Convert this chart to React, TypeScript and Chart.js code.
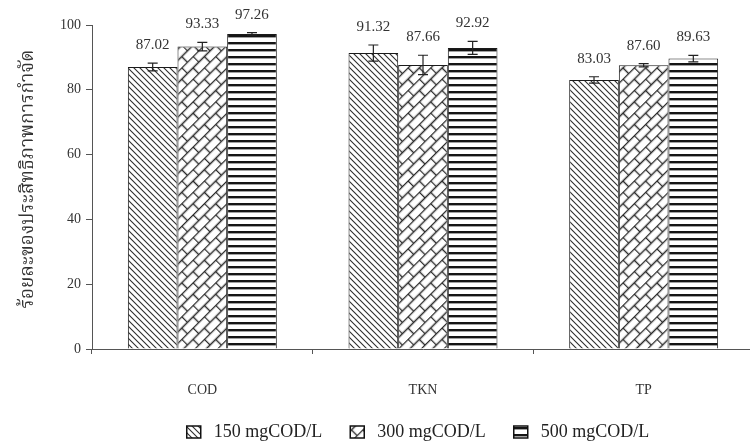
import React, { useEffect, useRef } from "react";
import { Chart, registerables } from "chart.js";

Chart.register(...registerables);

const categories = ["COD", "TKN", "TP"];
const seriesNames = ["150 mgCOD/L", "300 mgCOD/L", "500 mgCOD/L"];
const values150 = [87.02, 91.32, 83.03];
const values300 = [93.33, 87.66, 87.6];
const values500 = [97.26, 92.92, 89.63];
const err150 = [1.2, 2.5, 1.0];
const err300 = [1.3, 3.0, 0.5];
const err500 = [0.4, 2.0, 1.0];
const yMax = 100;
const yStep = 20;
const yTitle = "ร้อยละของประสิทธิภาพการกำจัด";

const SERIF = "'Liberation Serif', 'DejaVu Serif', serif";
const THAI = "'Noto Serif Thai', 'Noto Sans Thai', 'Loma', 'Garuda', 'Norasi', 'Kinnari', 'Tlwg Typo', sans-serif";

function tile(w: number, h: number, draw: (g: CanvasRenderingContext2D) => void) {
  const c = document.createElement("canvas");
  c.width = w;
  c.height = h;
  const g = c.getContext("2d")!;
  g.fillStyle = "#ffffff";
  g.fillRect(0, 0, w, h);
  draw(g);
  return c;
}

function makePatterns(ctx: CanvasRenderingContext2D) {
  const s = 6;
  const diag = tile(s, s, (g) => {
    g.strokeStyle = "#2e2e2e";
    g.lineWidth = 1.1;
    g.beginPath();
    for (const c of [-s, 0, s]) {
      g.moveTo(-2, -2 + c);
      g.lineTo(s + 2, s + 2 + c);
    }
    g.stroke();
  });
  const bw = 16;
  const bh = 8;
  const brick = tile(bw, bh * 2, (g) => {
    g.strokeStyle = "#2a2a2a";
    g.lineWidth = 1.4;
    g.beginPath();
    g.moveTo(0, 0.5);
    g.lineTo(bw, 0.5);
    g.moveTo(0, bh + 0.5);
    g.lineTo(bw, bh + 0.5);
    g.moveTo(0.5, 0);
    g.lineTo(0.5, bh);
    g.moveTo(bw / 2 + 0.5, bh);
    g.lineTo(bw / 2 + 0.5, bh * 2);
    g.stroke();
  });
  const horiz = tile(4, 7, (g) => {
    g.fillStyle = "#151515";
    g.fillRect(0, 0, 4, 2.4);
  });
  const p1 = ctx.createPattern(diag, "repeat")!;
  const p2 = ctx.createPattern(brick, "repeat")!;
  try {
    p2.setTransform(new DOMMatrix().rotate(-45));
  } catch (e) {}
  const p3 = ctx.createPattern(horiz, "repeat")!;
  return [p1, p2, p3];
}

export default function App() {
  const ref = useRef<HTMLCanvasElement | null>(null);

  useEffect(() => {
    const canvas = ref.current!;
    const ctx = canvas.getContext("2d")!;
    const patterns = makePatterns(ctx);
    const values = [values150, values300, values500];
    const errors = [err150, err300, err500];

    const overlay = {
      id: "overlay",
      afterDatasetsDraw(chart: any) {
        const c = chart.ctx as CanvasRenderingContext2D;
        const ys = chart.scales.y;
        const area = chart.chartArea;
        c.save();
        values.forEach((vals, di) => {
          const meta = chart.getDatasetMeta(di);
          meta.data.forEach((el: any, i: number) => {
            const v = vals[i];
            const e = errors[di][i];
            const x = el.x;
            const yt = ys.getPixelForValue(v + e);
            const yb = ys.getPixelForValue(v - e);
            c.strokeStyle = "#222";
            c.lineWidth = 1.2;
            c.beginPath();
            c.moveTo(x, yt);
            c.lineTo(x, yb);
            c.moveTo(x - 5, yt);
            c.lineTo(x + 5, yt);
            c.moveTo(x - 5, yb);
            c.lineTo(x + 5, yb);
            c.stroke();
            c.fillStyle = "#333";
            c.font = `15px ${SERIF}`;
            c.textAlign = "center";
            c.textBaseline = "alphabetic";
            const base = Math.max(yt - 14, 19);
            c.fillText(v.toFixed(2), x, base);
          });
        });
        // y title
        c.save();
        c.translate(30, (area.top + area.bottom) / 2 - 8);
        c.rotate(-Math.PI / 2);
        c.fillStyle = "#333";
        c.font = `19px ${THAI}`;
        c.textAlign = "center";
        c.textBaseline = "middle";
        c.fillText(yTitle, 0, 0);
        c.restore();
        // legend
        c.font = `18px ${SERIF}`;
        c.textBaseline = "middle";
        c.textAlign = "left";
        const iconW = 14;
        const iconH = 12;
        const gapIT = 13;
        const gapItem = 28;
        const widths = seriesNames.map((n) => c.measureText(n).width);
        const total = widths.reduce((a, b) => a + b, 0) + 3 * (iconW + gapIT) + 2 * gapItem;
        let x = (area.left + area.right) / 2 - 5 - total / 2;
        const ly = 432;
        seriesNames.forEach((n, i) => {
          c.fillStyle = patterns[i];
          c.fillRect(x, ly - iconH / 2, iconW, iconH);
          c.strokeStyle = "#111";
          c.lineWidth = 1.5;
          c.strokeRect(x, ly - iconH / 2, iconW, iconH);
          c.fillStyle = "#222";
          c.fillText(n, x + iconW + gapIT, ly);
          x += iconW + gapIT + widths[i] + gapItem;
        });
        c.restore();
      },
    };

    const chart = new Chart(canvas, {
      type: "bar",
      data: {
        labels: categories,
        datasets: values.map((vals, i) => ({
          label: seriesNames[i],
          data: vals,
          backgroundColor: patterns[i] as any,
          borderColor: "#1a1a1a",
          borderWidth: 1,
        })),
      },
      options: {
        animation: false,
        responsive: false,
        devicePixelRatio: 1,
        layout: { padding: { top: 25, left: 0, right: 0, bottom: 0 } },
        datasets: { bar: { categoryPercentage: 0.675, barPercentage: 1 } },
        plugins: { legend: { display: false }, tooltip: { enabled: false } },
        scales: {
          x: {
            grid: { display: true, drawOnChartArea: false, drawTicks: true, tickLength: 5, color: "#555", offset: true },
            border: { color: "#555", width: 1 },
            ticks: { padding: 28, color: "#333", font: { family: SERIF, size: 14 } },
            afterFit: (s: any) => {
              s.height = 97;
            },
          },
          y: {
            min: 0,
            max: yMax,
            grid: { display: true, drawOnChartArea: false, drawTicks: true, tickLength: 6, color: "#555" },
            border: { color: "#555", width: 1 },
            ticks: { stepSize: yStep, padding: 5, color: "#333", font: { family: SERIF, size: 14 } },
            afterFit: (s: any) => {
              s.width = 92;
            },
          },
        },
      },
      plugins: [overlay],
    });
    return () => chart.destroy();
  }, []);

  return (
    <div style={{ position: "fixed", left: 0, top: 0, width: 750, height: 446, overflow: "hidden", background: "#fff" }}>
      <canvas ref={ref} width={754} height={446} style={{ display: "block" }} />
    </div>
  );
}
